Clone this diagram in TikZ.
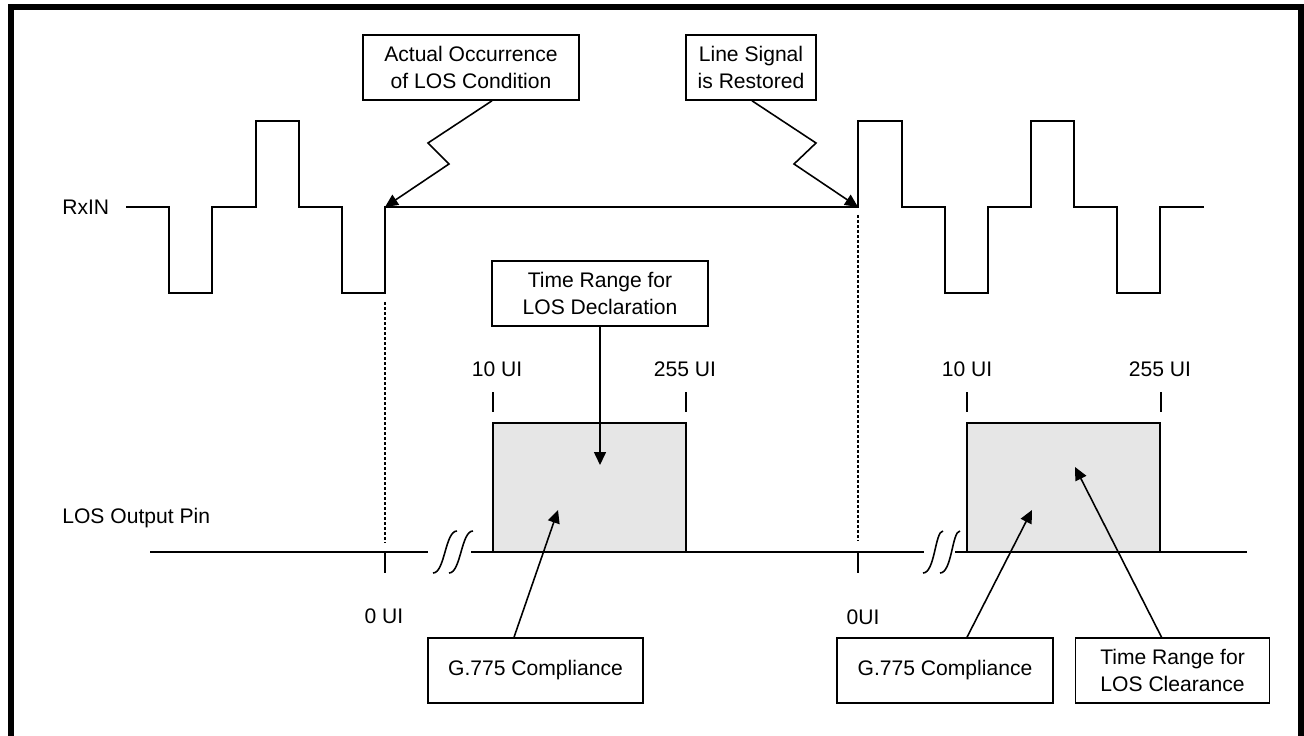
\documentclass[tikz,border=0pt]{standalone}
\usepackage{fontspec}
\setmainfont{Liberation Sans}
\usepackage{tikz}
\usetikzlibrary{arrows.meta,positioning}
\definecolor{losgray}{RGB}{230,230,230}
\tikzstyle{pointer} = [line width=0.9pt,-{Triangle[length=0.26cm,width=0.24cm]}]
\tikzstyle{signal} = [line width=1.1pt]
\tikzstyle{tickmark} = [line width=0.8pt]
\tikzstyle{guide} = [line width=0.6pt, dash pattern=on 0.06cm off 0.04cm]
\tikzstyle{breakmark} = [line width=0.9pt]
\tikzstyle{labelbox} = [rectangle, draw, line width=0.9pt, align=center, minimum height=1.3cm, inner sep=2pt]
\tikzstyle{rangebox} = [rectangle, draw, line width=0.9pt, fill=losgray, minimum width=3.86cm, minimum height=2.58cm]

\begin{document}
\begin{tikzpicture}[x=0.02cm, y=-0.02cm, font=\fontsize{12}{15.2}\selectfont]
\useasboundingbox (0,0) rectangle (1304,736);
% Frame
\draw[line width=0.12cm] (11,745) -- (11,7) -- (1301,7) -- (1301,745);

% RxIN waveform
\node[anchor=west, inner sep=0pt] (rxin) at (62,207) {RxIN};
\draw[signal] (126,207) -- (169,207) -- (169,293) -- (212,293) -- (212,207) -- (256,207) -- (256,121) -- (299,121) -- (299,207) -- (342,207) -- (342,293) -- (385,293) -- (385,207)
  -- (858,207) -- (858,121) -- (902,121) -- (902,207) -- (945,207) -- (945,293) -- (988,293) -- (988,207) -- (1031,207) -- (1031,121) -- (1074,121) -- (1074,207) -- (1117,207) -- (1117,293) -- (1160,293) -- (1160,207) -- (1204,207);
\coordinate (lost) at (385,207);
\coordinate (back) at (858,207);

% Callouts on the line signal
\node[labelbox, minimum width=4.32cm] (actual) at (471,67.5) {Actual Occurrence\\of LOS Condition};
\node[labelbox, minimum width=2.6cm] (restored) at (751,67.5) {Line Signal\\is Restored};
\draw[pointer] ([xshift=0.42cm]actual.south) -- (428,143) -- (449,164) -- (lost);
\draw[pointer] ([xshift=0.02cm]restored.south) -- (816,143) -- (794,164) -- (back);

% LOS output pin
\node[anchor=west, inner sep=0pt] (lospin) at (62,518) {LOS Output Pin};
\draw[signal] (150,552) -- (428,552);
\draw[signal] (471,552) -- (924,552);
\draw[signal] (955,552) -- (1247,552);
\draw[breakmark] (433,573) .. controls (445,573) and (445,531) .. (457,531);
\draw[breakmark] (449,573) .. controls (461,573) and (461,531) .. (473,531);
\draw[breakmark] (923,573) .. controls (935,573) and (935,531) .. (943,531);
\draw[breakmark] (940,573) .. controls (952,573) and (952,531) .. (960,531);

% Zero reference
\draw[guide] (385,302) -- (385,542);
\draw[guide] (858,215) -- (858,540);
\draw[tickmark] (385,552) -- (385,573);
\draw[tickmark] (858,552) -- (858,573);
\node (zeroa) at (384,616) {0 UI};
\node (zerob) at (863,617) {0UI};

% Declaration and clearance windows
\node[rangebox] (declare) at (589.5,487.5) {};
\node[rangebox] (clear) at (1063.5,487.5) {};
\draw[tickmark] (493,392) -- (493,412);
\draw[tickmark] (686,392) -- (686,412);
\draw[tickmark] (967,392) -- (967,412);
\draw[tickmark] (1161,392) -- (1161,412);
\node (tena) at (497,369) {10 UI};
\node (maxa) at (685,369) {255 UI};
\node (tenb) at (967,369) {10 UI};
\node (maxb) at (1160,369) {255 UI};

\node[labelbox, minimum width=4.32cm] (decl) at (600,293.5) {Time Range for\\LOS Declaration};
\coordinate (decltip) at (600,465);
\draw[pointer] (decl.south) -- (decltip);

% Bottom notes
\node[labelbox, minimum width=4.3cm] (g775a) at (535.5,670.5) {G.775 Compliance};
\node[labelbox, minimum width=4.32cm] (g775b) at (945,670.5) {G.775 Compliance};
\node[labelbox, minimum width=3.88cm, right=0.42cm of g775b] (clrnote) {Time Range for\\LOS Clearance};
\coordinate (tipa) at (558,510);
\coordinate (tipb) at (1032,510);
\coordinate (tipc) at (1075,467);
\draw[pointer] ([xshift=-0.43cm]g775a.north) -- (tipa);
\draw[pointer] ([xshift=0.44cm]g775b.north) -- (tipb);
\draw[pointer] ([xshift=-0.22cm]clrnote.north) -- (tipc);
\end{tikzpicture}
\end{document}
